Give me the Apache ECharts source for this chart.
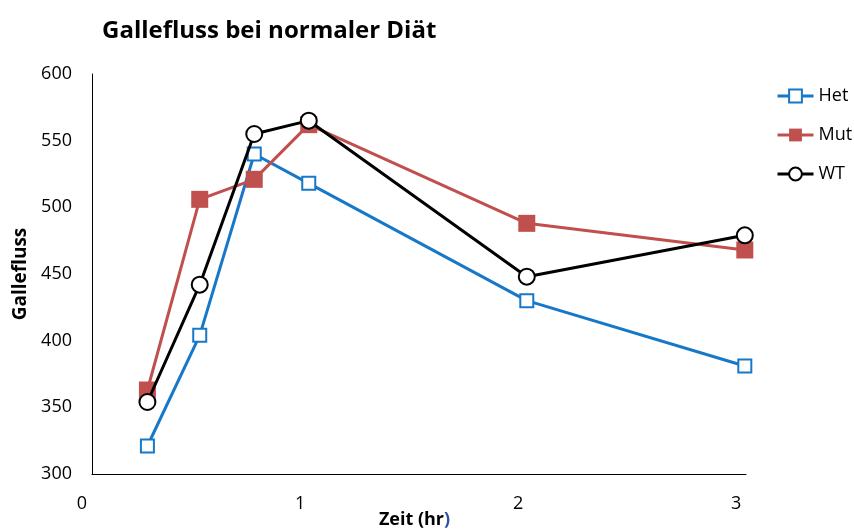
<!DOCTYPE html>
<html>
<head>
<meta charset="utf-8">
<script src="https://cdn.jsdelivr.net/npm/echarts@6/dist/echarts.min.js"></script>
<style>html,body{margin:0;padding:0;background:#fff}#c{width:854px;height:529px}</style>
</head>
<body>
<div id="c"></div>
<script>
const timeHr = [0.3, 0.54, 0.79, 1.04, 2.04, 3.04];
const het = [321, 404, 540, 518, 430, 381];
const mut = [363, 506, 521, 562, 488, 468];
const wt  = [354, 442, 555, 565, 448, 479];
const seriesNames = ['Het', 'Mut', 'WT'];
const yTicks = [300, 350, 400, 450, 500, 550, 600];
const xTicks = [0, 1, 2, 3];

const FONT = '"Open Sans", "Noto Sans", sans-serif';
const pair = (xs, ys) => xs.map((x, i) => [x, ys[i]]);

const chart = echarts.init(document.getElementById('c'), null, {renderer: 'canvas'});
chart.setOption({
  animation: false,
  backgroundColor: '#fff',
  textStyle: {fontFamily: FONT, color: '#000'},
  title: {
    text: 'Gallefluss bei normaler Diät',
    left: 102, top: 19, padding: 0,
    textStyle: {fontFamily: FONT, fontSize: 24, fontWeight: 'bold', color: '#000'}
  },
  legend: {
    orient: 'vertical',
    left: 776, top: 87, padding: 0,
    itemWidth: 36, itemHeight: 16,
    itemGap: 21,
    data: seriesNames,
    lineStyle: {width: 3},
    textStyle: {fontFamily: FONT, fontSize: 18, color: '#000'}
  },
  grid: [
    {left: 92, top: 74, width: 654, height: 400, containLabel: false, outerBoundsMode: 'none'},
    {left: 82, top: 74, width: 665, height: 400, containLabel: false, outerBoundsMode: 'none'}
  ],
  xAxis: [
    {gridIndex: 0, type: 'value', min: 0, max: 1,
     axisLine: {show: true, lineStyle: {color: '#000', width: 1}},
     axisTick: {show: false}, axisLabel: {show: false}, splitLine: {show: false}},
    {gridIndex: 1, type: 'value', min: xTicks[0], max: 3.05, interval: 1,
     axisLine: {show: false}, axisTick: {show: false}, splitLine: {show: false},
     axisLabel: {fontFamily: FONT, fontSize: 18, color: '#000', margin: 21, showMaxLabel: false,
       formatter: v => xTicks.includes(v) ? String(v) : ''},
     name: 'Zeit (hr{b|)}', nameLocation: 'middle', nameGap: 37, nameMoveOverlap: false,
     nameTextStyle: {fontFamily: FONT, fontSize: 18, fontWeight: 'bold', color: '#000',
       rich: {b: {fontFamily: FONT, fontSize: 18, fontWeight: 'bold', color: '#2f52a0'}}}}
  ],
  yAxis: [
    {gridIndex: 0, type: 'value', min: yTicks[0], max: yTicks[yTicks.length-1], interval: 50,
     axisLine: {show: true, lineStyle: {color: '#000', width: 1}},
     axisTick: {show: false}, splitLine: {show: false},
     axisLabel: {fontFamily: FONT, fontSize: 18, color: '#000', margin: 20},
     name: 'Gallefluss', nameLocation: 'middle', nameGap: 62, nameMoveOverlap: false,
     nameTextStyle: {fontFamily: FONT, fontSize: 19, fontWeight: 'bold', color: '#000'}},
    {gridIndex: 1, type: 'value', min: yTicks[0], max: yTicks[yTicks.length-1], show: false}
  ],
  series: [
    {name: 'Het', type: 'line', xAxisIndex: 1, yAxisIndex: 1, clip: false,
     data: pair(timeHr, het),
     symbol: 'rect', symbolSize: 13,
     lineStyle: {color: '#1878c8', width: 3},
     itemStyle: {color: '#fff', borderColor: '#1878c8', borderWidth: 2},
     z: 2},
    {name: 'Mut', type: 'line', xAxisIndex: 1, yAxisIndex: 1, clip: false,
     data: pair(timeHr, mut),
     symbol: 'rect', symbolSize: 17,
     lineStyle: {color: '#c0504d', width: 3},
     itemStyle: {color: '#c0504d', borderColor: '#c0504d', borderWidth: 0},
     z: 3},
    {name: 'WT', type: 'line', xAxisIndex: 1, yAxisIndex: 1, clip: false,
     data: pair(timeHr, wt),
     symbol: 'circle', symbolSize: 16,
     lineStyle: {color: '#000', width: 3},
     itemStyle: {color: '#fff', borderColor: '#000', borderWidth: 2},
     z: 4}
  ]
});
</script>
</body>
</html>
